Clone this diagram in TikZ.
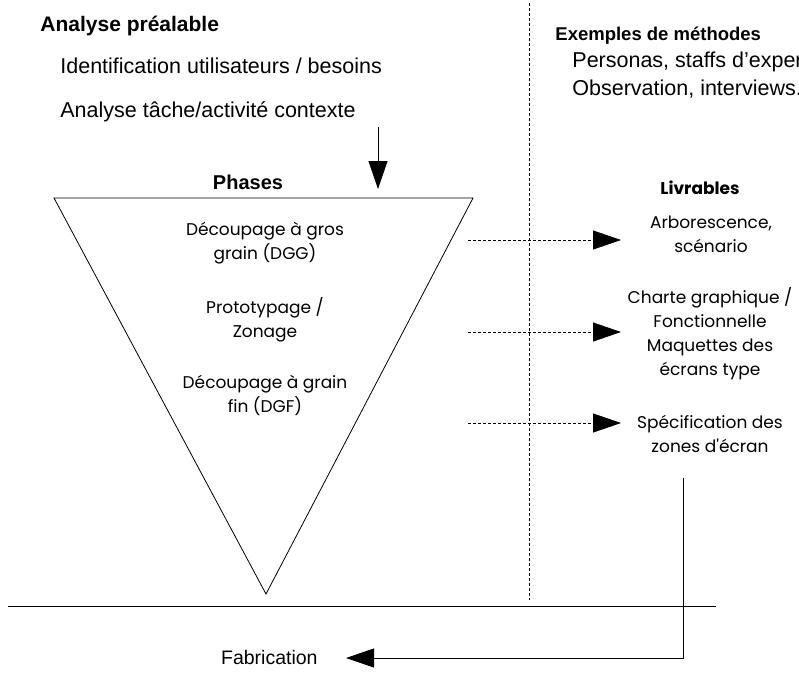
\documentclass[tikz,border=0pt]{standalone}
\usepackage{fontspec}
\setmainfont{Liberation Sans}
\newfontfamily\livfont{Poppins}
\usetikzlibrary{arrows.meta}
\tikzset{
  titre/.style={font=\bfseries\fontsize{21}{24}\selectfont},
  texte/.style={font=\fontsize{21.5}{25}\selectfont, anchor=west, inner sep=0pt},
  etape/.style={font=\livfont\fontsize{17}{24}\selectfont, align=center},
  fleche/.style={-{Triangle[length=28pt,width=19pt]}},
  tirets/.style={dash pattern=on 3pt off 2pt, line width=0.8pt},
}
\begin{document}
\begin{tikzpicture}[x=1pt,y=-1pt, line width=0.8pt]
  \useasboundingbox (0,0) rectangle (799,672);
  \clip (0,0) rectangle (799,672);
  % analyse prealable
  \node[titre, anchor=west, inner sep=0pt] (analyse) at (40,26) {Analyse préalable};
  \node[texte] (ident) at (60,66) {Identification utilisateurs / besoins};
  \node[texte] (tache) at (60,112) {Analyse tâche/activité contexte};
  % methodes
  \node[anchor=west, inner sep=0pt, font=\bfseries\fontsize{18.5}{21}\selectfont] (methodes) at (555,36) {Exemples de méthodes};
  \node[texte] (personas) at (572,62) {Personas, staffs d'experts};
  \node[texte] (observ) at (572,89) {Observation, interviews.};
  % separation
  \coordinate (sephaut) at (529,3);
  \coordinate (sepbas) at (529,600);
  \draw[tirets] (sephaut) -- (sepbas);
  % phases
  \node[titre, font=\bfseries\fontsize{20}{24}\selectfont] (phases) at (248,182) {Phases};
  \coordinate (tg) at (54,198);
  \coordinate (td) at (473,198);
  \coordinate (pointe) at (266,594);
  \draw (tg) -- (td) -- (pointe) -- cycle;
  \coordinate (entree) at (378,127);
  \coordinate (entreefin) at (378,189);
  \draw[fleche] (entree) -- (entreefin);
  \node[etape] (dgg) at (265,243) {Découpage à gros\\grain (DGG)};
  \node[etape] (proto) at (265,320) {Prototypage /\\Zonage};
  \node[etape] (dgf) at (265,395) {Découpage à grain\\fin (DGF)};
  % livrables
  \node[font=\livfont\bfseries\fontsize{17}{20}\selectfont] (livrables) at (700,188) {Livrables};
  \node[etape] (arbo) at (711,234) {Arborescence,\\scénario};
  \node[etape] (charte) at (710,334) {Charte graphique /\\Fonctionnelle\\Maquettes des\\écrans type};
  \node[etape] (specif) at (710,434) {Spécification des\\zones d'écran};
  \foreach \y/\nom in {240/a, 332/b, 423/c} {
    \coordinate (dep\nom) at (468,\y);
    \coordinate (arr\nom) at (621,\y);
    \draw[tirets, fleche] (dep\nom) -- (arr\nom);
  }
  % fabrication
  \draw[line width=1pt] (8,606) -- (716,606);
  \node[font=\fontsize{19.5}{22}\selectfont, anchor=east, inner sep=0pt] (fab) at (318,658) {Fabrication};
  \coordinate (sortie) at (683,478);
  \coordinate (fabfin) at (346,658);
  \draw[fleche] (sortie) |- (fabfin);
\end{tikzpicture}
\end{document}
